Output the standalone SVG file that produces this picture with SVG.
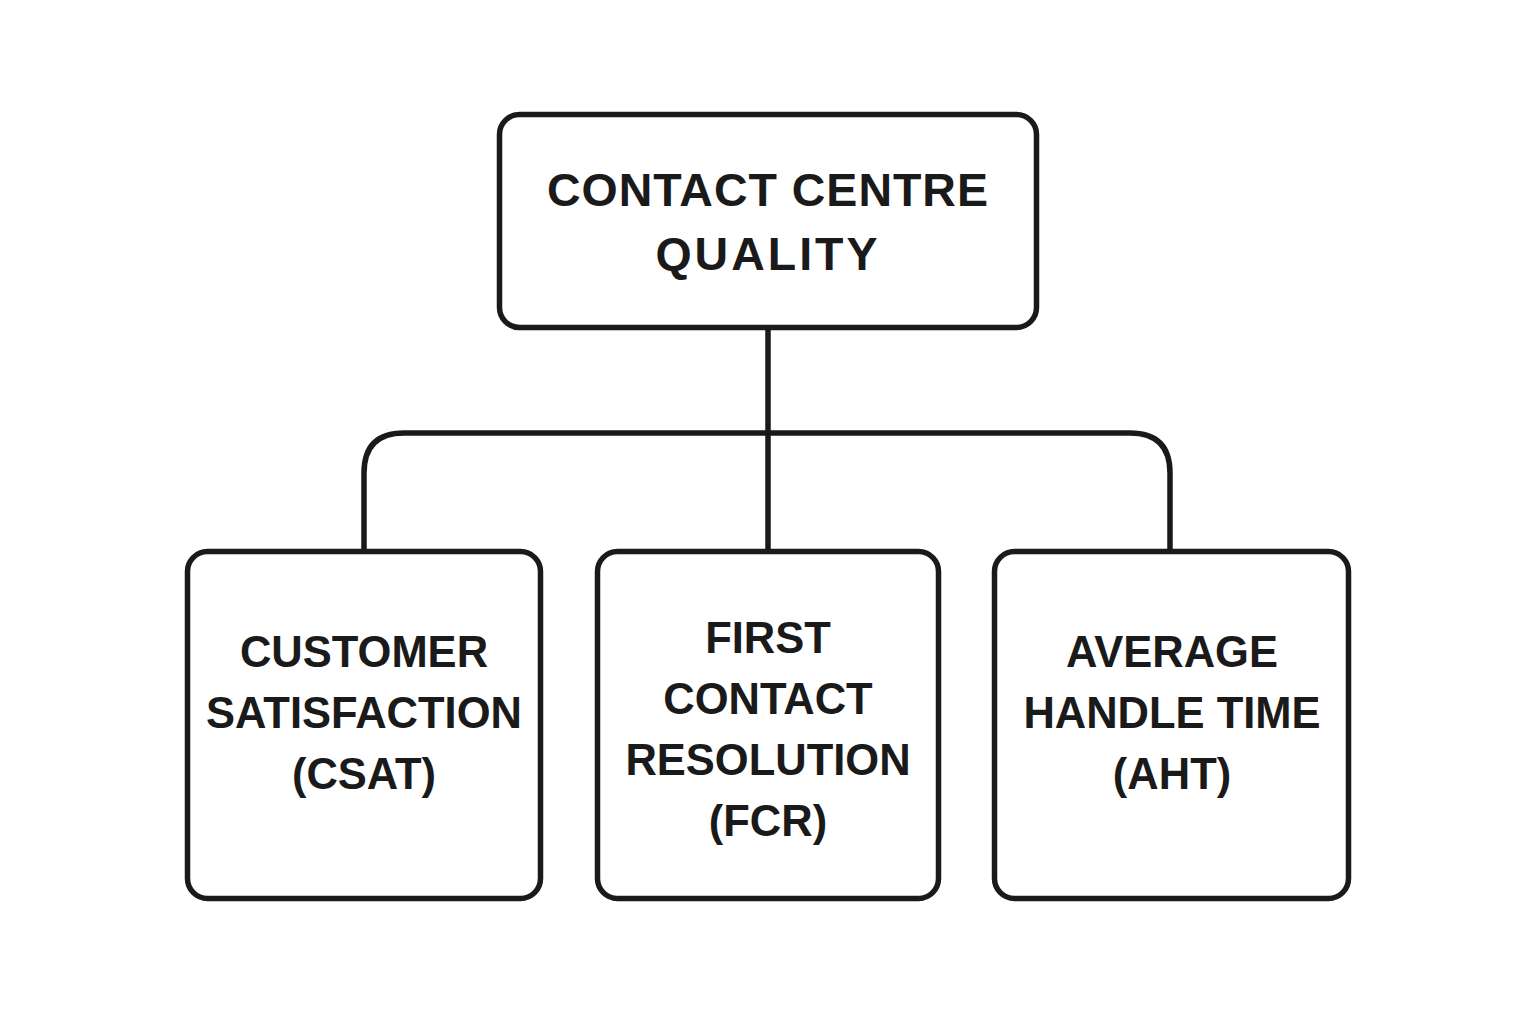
<svg xmlns="http://www.w3.org/2000/svg" width="1536" height="1024" viewBox="0 0 1536 1024">
<style>
.box{fill:#fff;stroke:#1a1a1a;stroke-width:5.5}
.con{fill:none;stroke:#1a1a1a;stroke-width:5.5}
.t{font-family:"Liberation Sans",Arial,sans-serif;font-weight:bold;fill:#1a1a1a;text-anchor:middle}
.top{font-size:46.5px;letter-spacing:1px}
.sub{font-size:43.5px}
</style>
<rect width="1536" height="1024" fill="#fff"/>
<g id="connectors">
<path class="con" d="M768,328 V551"/>
<path class="con" d="M364,551 V473 Q364,433 404,433 H1130 Q1170,433 1170,473 V551"/>
</g>
<g id="node-quality">
<rect class="box" x="499.5" y="114.5" width="537" height="213" rx="20"/>
<text class="t top" x="768" y="206">CONTACT CENTRE</text>
<text class="t top" x="768" y="270" style="letter-spacing:3px">QUALITY</text>
</g>
<g id="node-csat">
<rect class="box" x="187.5" y="551.5" width="353" height="347" rx="20"/>
<text class="t sub" x="364" y="667">CUSTOMER</text>
<text class="t sub" x="364" y="728">SATISFACTION</text>
<text class="t sub" x="364" y="789">(CSAT)</text>
</g>
<g id="node-fcr">
<rect class="box" x="597.5" y="551.5" width="341" height="347" rx="20"/>
<text class="t sub" x="768" y="653">FIRST</text>
<text class="t sub" x="768" y="714">CONTACT</text>
<text class="t sub" x="768" y="775">RESOLUTION</text>
<text class="t sub" x="768" y="836">(FCR)</text>
</g>
<g id="node-aht">
<rect class="box" x="994.5" y="551.5" width="354" height="347" rx="20"/>
<text class="t sub" x="1172" y="667">AVERAGE</text>
<text class="t sub" x="1172" y="728">HANDLE TIME</text>
<text class="t sub" x="1172" y="789">(AHT)</text>
</g>
</svg>
